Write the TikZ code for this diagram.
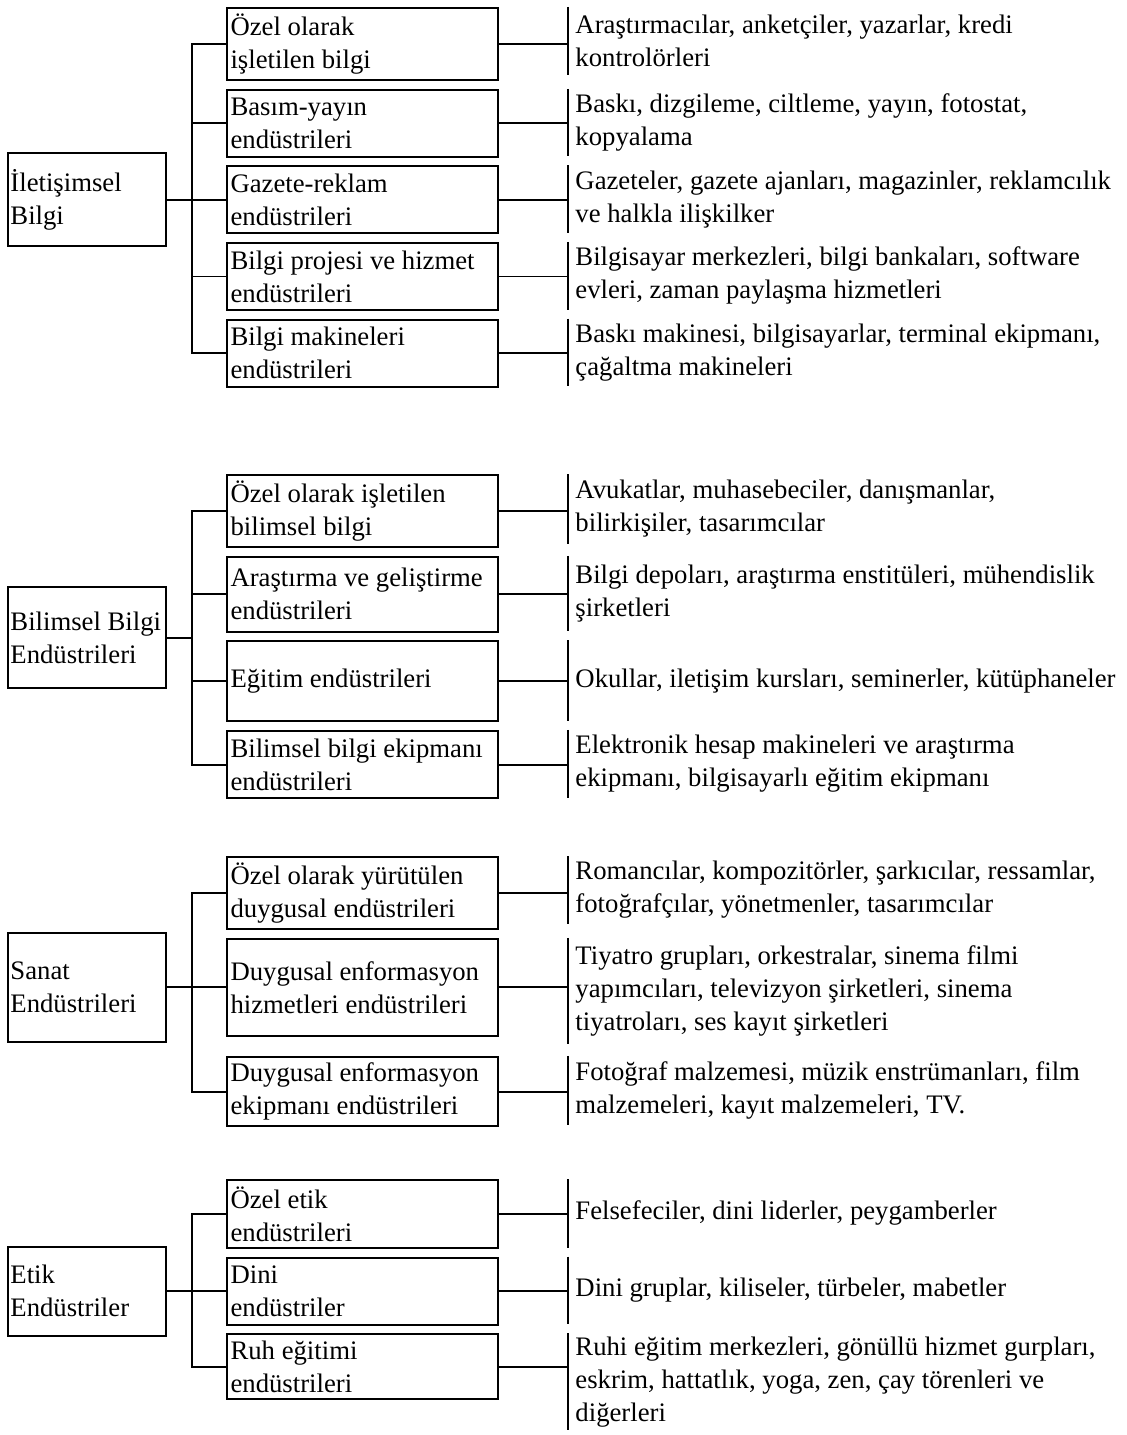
\documentclass[tikz,border=0pt]{standalone}
\usepackage{fontspec}
\setmainfont{Liberation Serif}
\usetikzlibrary{positioning,calc}

\begin{document}
\begin{tikzpicture}[
    node distance=1.5mm,
    every node/.style={font=\fontsize{15.2}{18.8}\selectfont},
    root/.style={draw,line width=1.2pt,align=flush left,text width=3.06cm,inner xsep=.5mm},
    box/.style={draw,line width=1.2pt,align=flush left,text width=5.28cm,inner xsep=.7mm,
      minimum height=13.4mm},
    desc/.style={align=flush left,inner xsep=1.4mm,inner ysep=.6mm,anchor=north west,
      minimum height=13.4mm},
    link/.style={line width=1.1pt}]
  \useasboundingbox (0,0) rectangle (22.52,-28.70);
  % İletişimsel Bilgi
  \node[box,anchor=north west] (b11) at (4.52,-.14) {Özel olarak\\işletilen bilgi};
  \node[box,below=of b11] (b12) {Basım-yayın\\endüstrileri};
  \node[box,below=of b12] (b13) {Gazete-reklam\\endüstrileri};
  \node[box,below=of b13] (b14) {Bilgi projesi ve hizmet\\endüstrileri};
  \node[box,below=of b14] (b15) {Bilgi makineleri\\endüstrileri};
  \node[root,left=11.8mm of b13,minimum height=18.6mm] (r1) {İletişimsel\\Bilgi};
  \node[right=13.8mm of b11.north east,desc] (d11) {Araştırmacılar, anketçiler, yazarlar, kredi\\kontrolörleri};
  \node[right=13.8mm of b12.north east,desc] (d12) {Baskı, dizgileme, ciltleme, yayın, fotostat,\\kopyalama};
  \node[right=13.8mm of b13.north east,desc] (d13) {Gazeteler, gazete ajanları, magazinler, reklamcılık\\ve halkla ilişkilker};
  \node[right=13.8mm of b14.north east,desc] (d14) {Bilgisayar merkezleri, bilgi bankaları, software\\evleri, zaman paylaşma hizmetleri};
  \node[right=13.8mm of b15.north east,desc] (d15) {Baskı makinesi, bilgisayarlar, terminal ekipmanı,\\çağaltma makineleri};
  % Bilimsel Bilgi Endüstrileri
  \node[box,anchor=north west,minimum height=13.8mm] (b21) at (4.52,-9.48) {Özel olarak işletilen\\bilimsel bilgi};
  \node[box,below=of b21,minimum height=15mm] (b22) {Araştırma ve geliştirme\\endüstrileri};
  \node[box,below=of b22,minimum height=16mm] (b23) {Eğitim endüstrileri};
  \node[box,below=of b23] (b24) {Bilimsel bilgi ekipmanı\\endüstrileri};
  \node[root,anchor=east,minimum height=20.2mm] (r2) at ($(b22.west)!.5!(b23.west)+(-11.8mm,0)$) {Bilimsel Bilgi\\Endüstrileri};
  \node[right=13.8mm of b21.north east,desc,minimum height=13.8mm] (d21) {Avukatlar, muhasebeciler, danışmanlar,\\bilirkişiler, tasarımcılar};
  \node[right=13.8mm of b22.north east,desc,minimum height=15mm] (d22) {Bilgi depoları, araştırma enstitüleri, mühendislik\\şirketleri};
  \node[right=13.8mm of b23.north east,desc,minimum height=16mm] (d23) {Okullar, iletişim kursları, seminerler, kütüphaneler};
  \node[right=13.8mm of b24.north east,desc] (d24) {Elektronik hesap makineleri ve araştırma\\ekipmanı, bilgisayarlı eğitim ekipmanı};
  % Sanat Endüstrileri
  \node[box,anchor=north west] (b31) at (4.52,-17.12) {Özel olarak yürütülen\\duygusal endüstrileri};
  \node[box,below=of b31,minimum height=19.4mm] (b32) {Duygusal enformasyon\\hizmetleri endüstrileri};
  \node[box,below=3.8mm of b32,minimum height=13.6mm] (b33) {Duygusal enformasyon\\ekipmanı endüstrileri};
  \node[root,left=11.8mm of b32,minimum height=21.8mm] (r3) {Sanat\\Endüstrileri};
  \node[right=13.8mm of b31.north east,desc] (d31) {Romancılar, kompozitörler, şarkıcılar, ressamlar,\\fotoğrafçılar, yönetmenler, tasarımcılar};
  \node[right=13.8mm of b32.north east,desc,inner ysep=1.5mm] (d32) {Tiyatro grupları, orkestralar, sinema filmi\\yapımcıları, televizyon şirketleri, sinema\\tiyatroları, ses kayıt şirketleri};
  \node[right=13.8mm of b33.north east,desc,minimum height=13.6mm] (d33) {Fotoğraf malzemesi, müzik enstrümanları, film\\malzemeleri, kayıt malzemeleri, TV.};
  % Etik Endüstriler
  \node[box,anchor=north west,minimum height=13.6mm] (b41) at (4.52,-23.58) {Özel etik\\endüstrileri};
  \node[box,below=of b41] (b42) {Dini\\endüstriler};
  \node[box,below=of b42,minimum height=13mm] (b43) {Ruh eğitimi\\endüstrileri};
  \node[root,left=11.8mm of b42,minimum height=17.8mm] (r4) {Etik\\Endüstriler};
  \node[right=13.8mm of b41.north east,desc,minimum height=13.6mm] (d41) {Felsefeciler, dini liderler, peygamberler};
  \node[right=13.8mm of b42.north east,desc] (d42) {Dini gruplar, kiliseler, türbeler, mabetler};
  \node[right=13.8mm of b43.north east,desc,minimum height=13mm] (d43) {Ruhi eğitim merkezleri, gönüllü hizmet gurpları,\\eskrim, hattatlık, yoga, zen, çay törenleri ve\\diğerleri};
  % bağlantılar
  \foreach \g/\last in {1/5,2/4,3/3,4/3} {
    \draw[link] (b\g1.west) -- ++(-6.8mm,0) |- (b\g\last.west);
    \draw[link] (r\g.east) -- (r\g.east -| {$(b\g1.west)+(-6.8mm,0)$});
  }
  \foreach \i in {12,13,14,22,23,32,42}
    \draw[link] (b\i.west) -- ++(-6.8mm,0);
  \foreach \i in {11,12,13,14,15,21,22,23,24,31,32,33,41,42,43} {
    \draw[link] (b\i.east) -- (b\i.east -| d\i.west);
    \draw[line width=1.3pt] (d\i.north west) -- (d\i.south west);
  }
\end{tikzpicture}
\end{document}
